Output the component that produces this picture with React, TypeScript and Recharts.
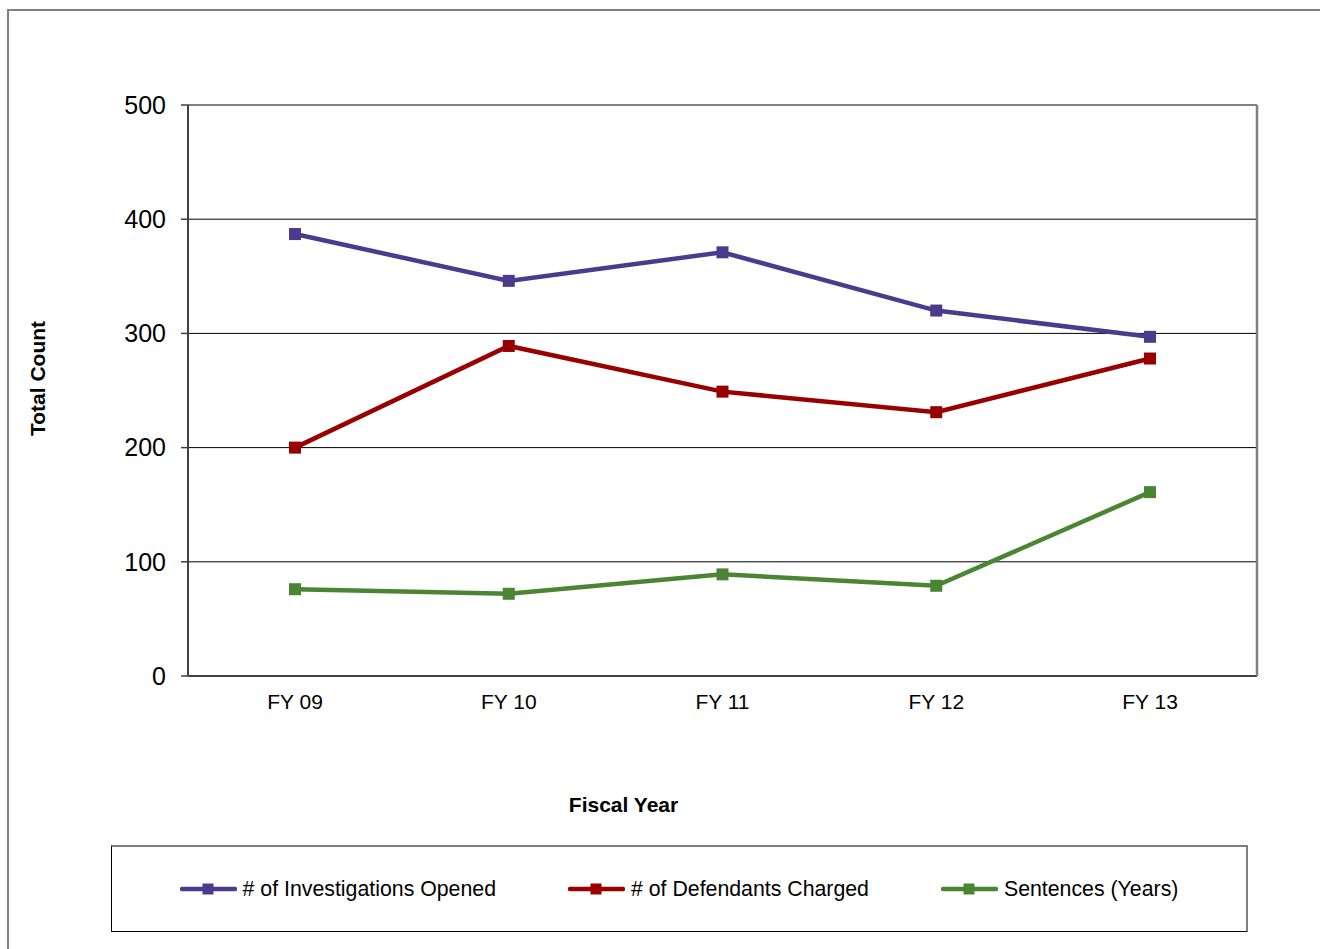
import React from 'react';
import { LineChart, Line, XAxis, YAxis, CartesianGrid, Legend } from 'recharts';

const fiscalYears = ['FY 09', 'FY 10', 'FY 11', 'FY 12', 'FY 13'];
const investigationsOpened = [387, 346, 371, 320, 297];
const defendantsCharged = [200, 289, 249, 231, 278];
const sentencesYears = [76, 72, 89, 79, 161];
const countTicks = [0, 100, 200, 300, 400, 500];

const seriesList = [
  { key: 'investigations', name: '# of Investigations Opened', color: '#4a3b8c', values: investigationsOpened },
  { key: 'defendants', name: '# of Defendants Charged', color: '#990000', values: defendantsCharged },
  { key: 'sentences', name: 'Sentences (Years)', color: '#4a8534', values: sentencesYears },
];

const rows = fiscalYears.map((fy, i) => {
  const row: Record<string, string | number> = { fy };
  seriesList.forEach((s) => {
    row[s.key] = s.values[i];
  });
  return row;
});

const FONT = '"Liberation Sans", Arial, sans-serif';

const SquareDot = (color: string) => (props: any) => {
  const { cx, cy, index } = props;
  if (cx == null || cy == null) return <g key={index} />;
  return <rect key={index} x={cx - 6} y={cy - 6} width={12} height={12} fill={color} />;
};

const LegendBox = () => (
  <div
    style={{
      width: '100%',
      height: '100%',
      boxSizing: 'border-box',
      borderTop: '2px solid #808080',
      borderRight: '2px solid #808080',
      borderLeft: '1px solid #000',
      borderBottom: '1px solid #000',
      display: 'flex',
      alignItems: 'center',
      justifyContent: 'center',
      gap: 72,
      fontFamily: FONT,
      fontSize: 21.3,
      color: '#000',
    }}
  >
    {seriesList.map((s) => (
      <div key={s.key} style={{ display: 'flex', alignItems: 'center' }}>
        <svg width={57} height={14} style={{ marginRight: 6 }}>
          <line x1={2} y1={7} x2={55} y2={7} stroke={s.color} strokeWidth={4.5} strokeLinecap="round" />
          <rect x={22.5} y={1.5} width={11} height={11} fill={s.color} />
        </svg>
        <span>{s.name}</span>
      </div>
    ))}
  </div>
);

export default function App() {
  return (
    <div style={{ position: 'absolute', left: 0, top: 0, width: 1320, height: 949, background: '#fff', overflow: 'hidden' }}>
      <div
        style={{
          position: 'absolute',
          left: 7,
          top: 9,
          width: 1400,
          height: 1000,
          borderTop: '2px solid #808080',
          borderLeft: '2px solid #808080',
        }}
      />
      <div style={{ position: 'absolute', left: 0, top: 0 }}>
        <LineChart
          width={1320}
          height={949}
          data={rows}
          margin={{ top: 105, right: 62, left: 8, bottom: 233 }}
        >
          <CartesianGrid vertical={false} stroke="#000" strokeWidth={1} />
          <XAxis
            dataKey="fy"
            height={40}
            padding={{ left: 107, right: 107 }}
            tickLine={false}
            tickSize={0}
            tickMargin={18}
            axisLine={{ stroke: '#404040', strokeWidth: 2 }}
            tick={{ fill: '#000', fontSize: 21, fontFamily: FONT }}
            label={{
              content: (p: any) => {
                const vb = p.viewBox;
                return (
                  <text
                    x={vb.x + vb.width / 2 - 99}
                    y={vb.y + 136}
                    textAnchor="middle"
                    fontFamily={FONT}
                    fontSize={21}
                    fontWeight="bold"
                    fill="#000"
                  >
                    Fiscal Year
                  </text>
                );
              },
            }}
          />
          <XAxis
            xAxisId="top"
            dataKey="fy"
            orientation="top"
            height={0}
            tick={false}
            tickLine={false}
            axisLine={{ stroke: '#808080', strokeWidth: 2.5 }}
          />
          <YAxis
            width={180}
            domain={[0, 500]}
            ticks={countTicks}
            interval={0}
            tickSize={7}
            tickMargin={15}
            tickLine={{ stroke: '#404040', strokeWidth: 1.5 }}
            axisLine={{ stroke: '#404040', strokeWidth: 2 }}
            tick={{ fill: '#000', fontSize: 25, fontFamily: FONT }}
            label={{
              content: (p: any) => {
                const vb = p.viewBox;
                const x = vb.x + 29;
                const y = vb.y + vb.height / 2 - 12;
                return (
                  <text
                    x={x}
                    y={y}
                    transform={`rotate(-90, ${x}, ${y})`}
                    textAnchor="middle"
                    dominantBaseline="central"
                    fontFamily={FONT}
                    fontSize={21}
                    fontWeight="bold"
                    fill="#000"
                  >
                    Total Count
                  </text>
                );
              },
            }}
          />
          <YAxis
            yAxisId="right"
            orientation="right"
            width={1}
            domain={[0, 500]}
            ticks={countTicks}
            tick={false}
            tickLine={false}
            axisLine={{ stroke: '#808080', strokeWidth: 2.5 }}
          />
          <Legend
            layout="horizontal"
            verticalAlign="middle"
            align="center"
            wrapperStyle={{ position: 'absolute', left: 111, top: 845, width: 1137, height: 87, bottom: 'auto' }}
            content={() => <LegendBox />}
          />
          {seriesList.map((s) => (
            <Line
              key={s.key}
              type="linear"
              dataKey={s.key}
              name={s.name}
              stroke={s.color}
              strokeWidth={4.5}
              dot={SquareDot(s.color)}
              activeDot={false}
              isAnimationActive={false}
            />
          ))}
        </LineChart>
      </div>
    </div>
  );
}
